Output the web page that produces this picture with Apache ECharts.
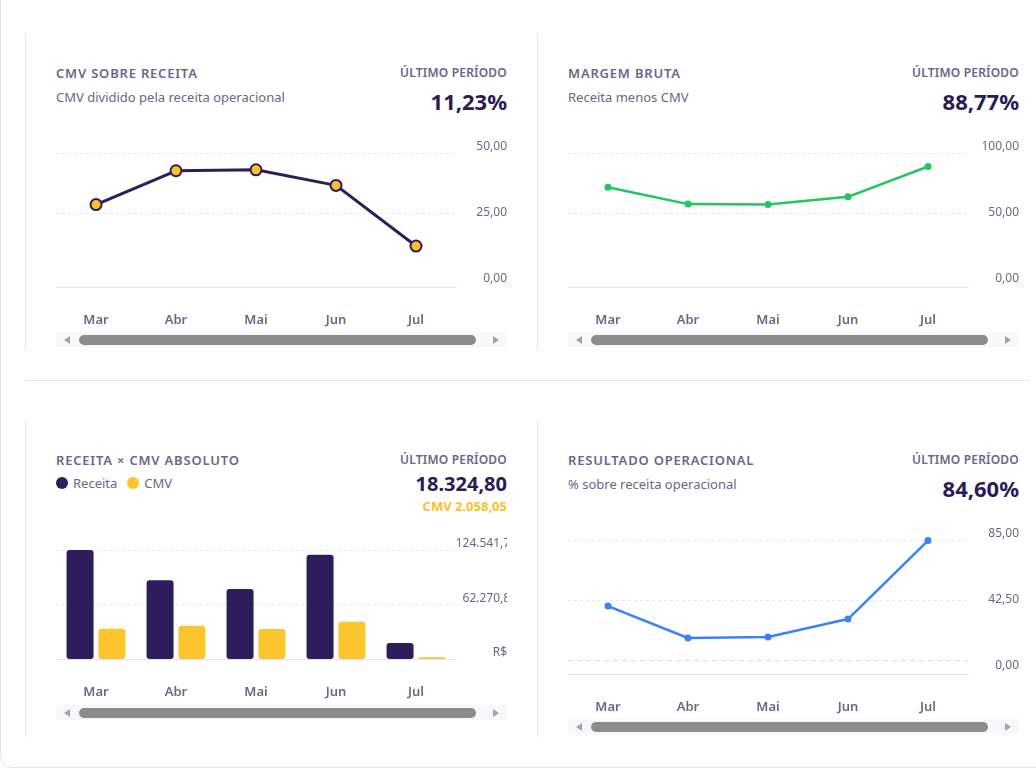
<!DOCTYPE html>
<html>
<head>
<meta charset="utf-8">
<script src="https://cdn.jsdelivr.net/npm/echarts@6/dist/echarts.min.js"></script>
<style>
    body {margin: 0; background: #fff; font-family: "Noto Sans", sans-serif; overflow: hidden; width: 1036px; height: 770px; position: relative;}
    .frame {position: absolute; left: 0; top: -20px; width: 1060px; height: 788px; border: 1px solid #e4e4ea; border-radius: 12px; box-sizing: border-box;}
    .sep {position: absolute; left: 25px; top: 380px; width: 1005px; height: 1px; background: #e6e6ec;}
    .card {position: absolute; width: 482px; height: 317px; border-left: 1px solid #e6e6ec; padding-left: 30px; box-sizing: border-box;}
    .head {height: 100px; display: flex; justify-content: space-between; box-sizing: border-box; padding-top: 32px;}
    .title {font-size: 13px; line-height: 16px; font-weight: 600; letter-spacing: .8px; color: #6b6589;}
    .sub {font-size: 13px; line-height: 16px; color: #6b6589; margin-top: 8px;}
    .right {text-align: right;}
    .lbl {font-size: 12px; line-height: 16px; font-weight: 600; color: #6b6589; letter-spacing: .2px;}
    .val {font-size: 22px; line-height: 28px; font-weight: 700; color: #2a1b57; margin-top: 6px;}
    .val.small {font-size: 20px; line-height: 24px; margin-top: 4px;}
    .cmvval {font-size: 13px; line-height: 16px; font-weight: 700; color: #fbc02d; margin-top: 2px;}
    .legend {font-size: 13px; line-height: 16px; color: #6b6589; margin-top: 7px; display: flex; align-items: center;}
    .dot {display: inline-block; width: 12px; height: 12px; border-radius: 50%; margin-right: 5px;}
    .scroll {width: 451px; overflow: hidden;}
    .chart {width: 480px; height: 199px;}
    .chart.bar {height: 185px;}
    /* barra de rolagem desenhada à mão (o navegador headless esconde a nativa) */
    .sbar {position: relative; width: 451px; height: 15px; background: #f8f8fa;}
    .sbar .thumb {position: absolute; left: 23px; width: 397px; top: 3px; height: 10px; border-radius: 5px; background: #8c8c8c;}
    .sbar .al, .sbar .ar {position: absolute; top: 4px; width: 0; height: 0; border-top: 4px solid transparent; border-bottom: 4px solid transparent;}
    .sbar .al {left: 8px; border-right: 6px solid #a3a3a3;}
    .sbar .ar {left: 437px; border-left: 6px solid #a3a3a3;}
</style>
</head>
<body>
<div class="frame"></div>
<div class="sep"></div>

<div class="card" style="left:25px;top:33px">
    <div class="head">
        <div>
            <div class="title">CMV SOBRE RECEITA</div>
            <div class="sub">CMV dividido pela receita operacional</div>
        </div>
        <div class="right">
            <div class="lbl">ÚLTIMO PERÍODO</div>
            <div class="val">11,23%</div>
        </div>
    </div>
    <div class="scroll"><div class="chart" id="c1"></div></div>
    <div class="sbar"><span class="al"></span><span class="thumb"></span><span class="ar"></span></div>
</div>

<div class="card" style="left:537px;top:33px">
    <div class="head">
        <div>
            <div class="title">MARGEM BRUTA</div>
            <div class="sub">Receita menos CMV</div>
        </div>
        <div class="right">
            <div class="lbl">ÚLTIMO PERÍODO</div>
            <div class="val">88,77%</div>
        </div>
    </div>
    <div class="scroll"><div class="chart" id="c2"></div></div>
    <div class="sbar"><span class="al"></span><span class="thumb"></span><span class="ar"></span></div>
</div>

<div class="card" style="left:25px;top:420px">
    <div class="head">
        <div>
            <div class="title">RECEITA × CMV ABSOLUTO</div>
            <div class="legend"><span class="dot" style="background:#2f1c5c"></span>Receita<span class="dot" style="background:#fcc52d;margin-left:10px"></span>CMV</div>
        </div>
        <div class="right">
            <div class="lbl">ÚLTIMO PERÍODO</div>
            <div class="val small">18.324,80</div>
            <div class="cmvval">CMV 2.058,05</div>
        </div>
    </div>
    <div class="scroll"><div class="chart bar" id="c3"></div></div>
    <div class="sbar"><span class="al"></span><span class="thumb"></span><span class="ar"></span></div>
</div>

<div class="card" style="left:537px;top:420px">
    <div class="head">
        <div>
            <div class="title">RESULTADO OPERACIONAL</div>
            <div class="sub">% sobre receita operacional</div>
        </div>
        <div class="right">
            <div class="lbl">ÚLTIMO PERÍODO</div>
            <div class="val">84,60%</div>
        </div>
    </div>
    <div class="scroll"><div class="chart" id="c4"></div></div>
    <div class="sbar"><span class="al"></span><span class="thumb"></span><span class="ar"></span></div>
</div>

<script>
    var months = ['Mar', 'Abr', 'Mai', 'Jun', 'Jul'];
    var cmvPct = [28.5, 42.6, 43.0, 36.5, 11.23];
    var margemPct = [71.5, 57.4, 57.0, 63.5, 88.77];
    var resultadoPct = [38.2, 15.6, 16.3, 29.0, 84.60];
    var receita = [124541.70, 90012, 80103, 119186, 18324.80];
    var cmv = [34525, 37943, 34183, 42501, 2058.05];

    var txt = '#6b6589';
    var font = 'Noto Sans';

    function pct(v) {
        return v.toFixed(2).replace('.', ',') + '%';
    }

    function money(v) {
        if (!v) return 'R$ 0';
        var p = v.toFixed(2).split('.');
        return p[0].replace(/\B(?=(\d{3})+(?!\d))/g, '.') + ',' + p[1];
    }

    function xAxis(offset) {
        return {
            type: 'category',
            data: months,
            offset: offset,
            axisLine: {onZero: false, lineStyle: {color: '#e4e4ea'}},
            axisTick: {show: false},
            axisLabel: {margin: 27, color: txt, fontSize: 13, fontWeight: 600, fontFamily: font}
        };
    }

    function lineChart(id, data, max, color, big, zeroLine) {
        var chart = echarts.init(document.getElementById(id));
        var series = {
            type: 'line',
            data: data,
            symbol: 'circle',
            symbolSize: big ? 11 : 7,
            lineStyle: {color: color, width: big ? 3 : 2.5},
            itemStyle: big ? {color: '#fbc02d', borderColor: color, borderWidth: 2} : {color: color}
        };
        if (zeroLine) {
            series.markLine = {
                silent: true,
                symbol: 'none',
                label: {show: false},
                lineStyle: {color: '#dcdce2', type: [5, 4], width: 1},
                data: [{yAxis: 0}]
            };
        }
        chart.setOption({
            animation: false,
            grid: {left: 0, right: 80, top: 20, bottom: 59},
            xAxis: xAxis(14),
            yAxis: {
                type: 'value',
                position: 'right',
                min: 0,
                max: max,
                interval: max / 2,
                axisLine: {show: false},
                axisTick: {show: false},
                splitLine: {showMinLine: false, lineStyle: {color: '#e8e8ee', type: [3, 3]}},
                axisLabel: {
                    align: 'right', margin: 61, fontSize: 12, color: txt, fontFamily: font,
                    verticalAlignMinLabel: 'top', verticalAlignMaxLabel: 'bottom',
                    formatter: pct
                }
            },
            series: [series]
        });
    }

    lineChart('c1', cmvPct, 50, '#2e1d5c', true, false);
    lineChart('c2', margemPct, 100, '#22c55e', false, false);
    lineChart('c4', resultadoPct, 85, '#3b82f6', false, true);

    var barChart = echarts.init(document.getElementById('c3'));
    var maxReceita = Math.max.apply(null, receita);
    barChart.setOption({
        animation: false,
        grid: {left: 0, right: 80, top: 30, bottom: 46},
        xAxis: xAxis(0),
        yAxis: {
            type: 'value',
            position: 'right',
            min: 0,
            max: maxReceita,
            interval: maxReceita / 2,
            axisLine: {show: false},
            axisTick: {show: false},
            splitLine: {lineStyle: {color: '#e8e8ee', type: [3, 3]}},
            axisLabel: {
                align: 'right', margin: 61, fontSize: 12, color: txt, fontFamily: font,
                verticalAlign: 'bottom',
                formatter: money
            }
        },
        series: [{
            name: 'Receita',
            type: 'bar',
            data: receita,
            barWidth: 27,
            barGap: '18%',
            itemStyle: {color: '#2f1c5c', borderRadius: 3}
        }, {
            name: 'CMV',
            type: 'bar',
            data: cmv,
            barWidth: 27,
            itemStyle: {color: '#fcc52d', borderRadius: 3}
        }]
    });
</script>
</body>
</html>
